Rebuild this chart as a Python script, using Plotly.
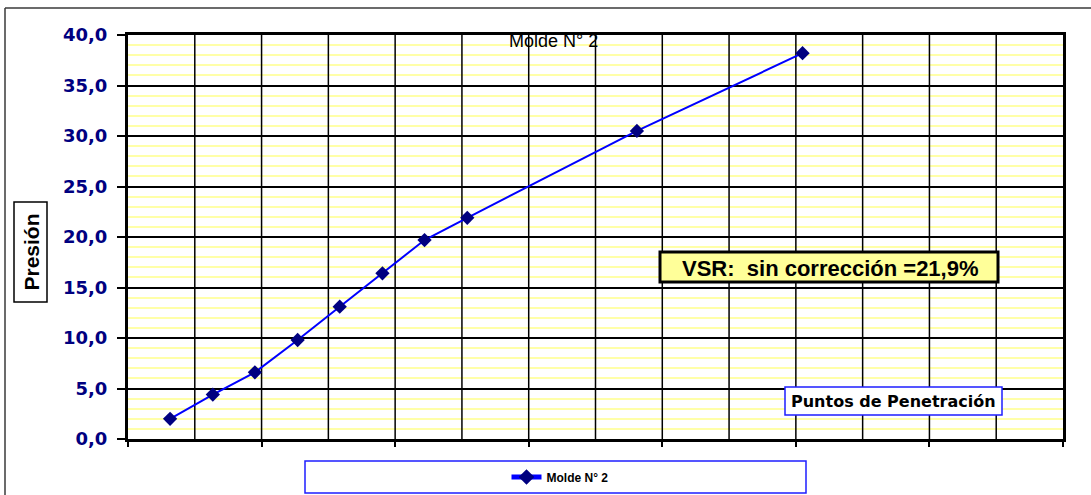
import plotly.graph_objects as go

# Penetration (mm) and pressure readings for mould N° 2
penetracion = [0.63, 1.27, 1.90, 2.54, 3.17, 3.81, 4.44, 5.08, 7.62, 10.10]
presion = [2.0, 4.4, 6.6, 9.8, 13.1, 16.4, 19.7, 21.9, 30.5, 38.2]

serie = "Molde N° 2"
titulo = "Molde N° 2"
eje_y = "Presión"
eje_x = "Puntos de Penetración"
nota_vsr = "VSR:  sin corrección =21,9%"

X_MAX, Y_MAX = 14, 40

W, H = 1091, 495
L, R, T, B = 128, 28, 35, 56
PW, PH = W - L - R, H - T - B


def fx(px):
    """Pixel column -> paper fraction of the plot area."""
    return (px - L) / PW


def fy(py):
    """Pixel row -> paper fraction of the plot area."""
    return (T + PH - py) / PH


fig = go.Figure()
fig.add_trace(go.Scatter(
    x=penetracion, y=presion, name=serie, mode="lines+markers",
    line=dict(color="#0000FF", width=2),
    marker=dict(symbol="diamond", size=11, color="#000080"),
))

bold = dict(family="Liberation Sans, Arial", color="black", weight="bold")

fig.update_layout(
    width=W, height=H,
    margin=dict(l=L, r=R, t=T, b=B, autoexpand=False),
    paper_bgcolor="white", plot_bgcolor="white",
    separators=", ",
    showlegend=True,
    legend=dict(
        x=fx(560), y=fy(477), xanchor="center", yanchor="middle",
        bgcolor="rgba(0,0,0,0)", borderwidth=0,
        font=dict(family="Liberation Sans, Arial", size=12, color="black", weight="bold"),
        itemsizing="constant",
    ),
    xaxis=dict(
        range=[0, X_MAX], dtick=2, tick0=0,
        showticklabels=False, ticks="outside", ticklen=5, tickwidth=1.5, tickcolor="black",
        showgrid=False,
        showline=True, linecolor="black", linewidth=3, mirror=True,
        zeroline=False, fixedrange=True,
    ),
    yaxis=dict(
        range=[0, Y_MAX], dtick=5, tick0=0, tickformat=".1f",
        ticks="outside", ticklen=8, tickwidth=1.5, tickcolor="black",
        ticklabelstandoff=6,
        tickfont=dict(family="DejaVu Sans", size=18, color="#000080", weight="bold"),
        showgrid=True, gridcolor="black", gridwidth=1.5,
        minor=dict(dtick=1, showgrid=True, gridcolor="#FFFFA8", gridwidth=2, ticks=""),
        showline=True, linecolor="black", linewidth=3, mirror=True,
        zeroline=False, fixedrange=True,
    ),
)

# vertical gridlines every unit, kept above the pale horizontal minor grid
shapes = [
    dict(type="line", xref="x", yref="y", x0=g, x1=g, y0=0, y1=Y_MAX,
         line=dict(color="black", width=1.5), layer="between")
    for g in range(1, X_MAX)
]
shapes += [
    # outer chart frame
    dict(type="line", xref="paper", yref="paper", x0=fx(5), y0=fy(8), x1=fx(1100), y1=fy(8),
         line=dict(color="#3a3a3a", width=1.5)),
    dict(type="line", xref="paper", yref="paper", x0=fx(5), y0=fy(8), x1=fx(5), y1=fy(505),
         line=dict(color="#3a3a3a", width=1.5)),
    # y-axis title box
    dict(type="rect", xref="paper", yref="paper", x0=fx(14), x1=fx(47), y0=fy(302), y1=fy(202),
         line=dict(color="black", width=1.5), fillcolor="white"),
    # VSR box
    dict(type="rect", xref="paper", yref="paper", x0=fx(660), x1=fx(998), y0=fy(282), y1=fy(252),
         line=dict(color="black", width=3), fillcolor="#FFFF99"),
    # x-axis title box
    dict(type="rect", xref="paper", yref="paper", x0=fx(785), x1=fx(1002), y0=fy(415), y1=fy(387),
         line=dict(color="#1E1EFF", width=1.5), fillcolor="white"),
    # legend frame
    dict(type="rect", xref="paper", yref="paper", x0=fx(305), x1=fx(806), y0=fy(493), y1=fy(461),
         line=dict(color="#1E1EFF", width=1.5), fillcolor="white", layer="below"),
]
fig.update_layout(shapes=shapes)

fig.add_annotation(text=titulo, xref="paper", yref="paper", x=fx(553), y=fy(41),
                   xanchor="center", yanchor="middle", showarrow=False,
                   font=dict(family="Liberation Sans, Arial", size=18, color="black"))
fig.add_annotation(text=eje_y, xref="paper", yref="paper", x=fx(30.5), y=fy(252),
                   xanchor="center", yanchor="middle", showarrow=False, textangle=-90,
                   font=dict(bold, size=21))
fig.add_annotation(text=nota_vsr, xref="paper", yref="paper", x=fx(830), y=fy(268),
                   xanchor="center", yanchor="middle", showarrow=False,
                   font=dict(bold, size=22))
fig.add_annotation(text=eje_x, xref="paper", yref="paper", x=fx(893), y=fy(401),
                   xanchor="center", yanchor="middle", showarrow=False,
                   font=dict(family="DejaVu Sans", size=16, color="black", weight="bold"))

fig.write_html("out.html")
